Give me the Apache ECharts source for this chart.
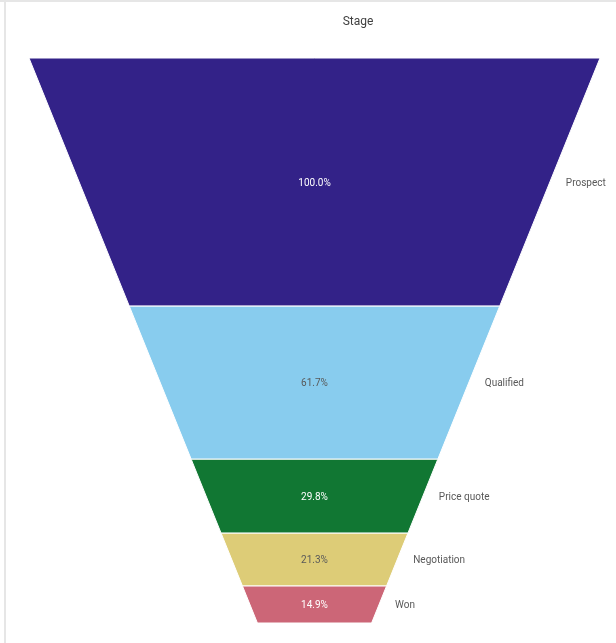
<!DOCTYPE html>
<html>
<head>
<meta charset="utf-8">
<title>Stage funnel</title>
<script src="https://cdn.jsdelivr.net/npm/echarts@6/dist/echarts.min.js"></script>
<style>
  html, body { margin: 0; padding: 0; background: #fff; }
  #chart { width: 616px; height: 643px; }
</style>
</head>
<body>
<div id="chart"></div>
<script>
// Funnel stages, top to bottom
const stages = ['Prospect', 'Qualified', 'Price quote', 'Negotiation', 'Won'];
const values = [100, 61.7, 29.8, 21.3, 14.9];
const colors = ['#332288', '#88ccee', '#117733', '#ddcc77', '#cc6677'];
const labelColors = ['#ffffff', '#595959', '#ffffff', '#595959', '#ffffff'];

// the funnel narrows to this fraction of its top width
const NECK = 0.2;

const total = values.reduce((a, b) => a + b, 0);

// each slice gets a height proportional to its value
let cum = 0;
const slices = values.map((v, i) => {
    const start = cum;
    cum += v;
    return [start, cum, v, i];
});

function halfWidth(c) {
    return 1 - (1 - NECK) * c / total;
}

function renderSlice(params, api) {
    const s = api.value(0);
    const e = api.value(1);
    const v = api.value(2);
    const i = api.value(3);
    const p1 = api.coord([-halfWidth(s), s]);
    const p2 = api.coord([halfWidth(s), s]);
    const p3 = api.coord([halfWidth(e), e]);
    const p4 = api.coord([-halfWidth(e), e]);
    const mid = (s + e) / 2;
    const c = api.coord([0, mid]);
    const r = api.coord([halfWidth(mid), mid]);
    const pct = (v / values[0] * 100).toFixed(1) + '%';

    return {
        type: 'group',
        children: [
            {
                type: 'polygon',
                shape: { points: [p1, p2, p3, p4] },
                style: { fill: colors[i], stroke: '#ffffff', lineWidth: 1 }
            },
            {
                type: 'text',
                x: c[0], y: c[1] + 1,
                style: {
                    text: pct,
                    fill: labelColors[i],
                    font: '10px Roboto, sans-serif',
                    align: 'center',
                    verticalAlign: 'middle'
                }
            },
            {
                type: 'text',
                x: r[0] + 16, y: r[1] + 1,
                style: {
                    text: stages[i],
                    fill: '#595959',
                    font: '10px Roboto, sans-serif',
                    align: 'left',
                    verticalAlign: 'middle'
                }
            }
        ]
    };
}

const chart = echarts.init(document.getElementById('chart'));

chart.setOption({
    animation: false,
    title: {
        text: 'Stage',
        left: 353,
        top: 11,
        textAlign: 'center',
        textStyle: {
            fontSize: 12,
            fontWeight: 'normal',
            color: '#404040',
            fontFamily: 'Roboto, sans-serif'
        }
    },
    graphic: [
        { type: 'rect', shape: { x: 0, y: 0, width: 616, height: 2 }, style: { fill: '#e6e6e6' } },
        { type: 'rect', shape: { x: 4, y: 0, width: 2, height: 643 }, style: { fill: '#e6e6e6' } }
    ],
    grid: { left: 29, right: 16, top: 58, bottom: 20 },
    xAxis: { type: 'value', min: -1, max: 1, show: false },
    yAxis: { type: 'value', min: 0, max: total, inverse: true, show: false },
    series: [{
        type: 'custom',
        renderItem: renderSlice,
        data: slices,
        encode: { x: -1, y: [0, 1] }
    }]
});
</script>
</body>
</html>
